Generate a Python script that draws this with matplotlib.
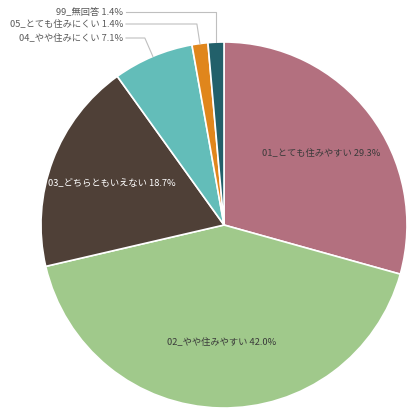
import matplotlib
matplotlib.use("Agg")
import matplotlib.pyplot as plt
import numpy as np

plt.rcParams['font.family'] = ['Noto Sans CJK JP', 'DejaVu Sans']

# データ
labels = ["01_とても住みやすい", "02_やや住みやすい", "03_どちらともいえない",
          "04_やや住みにくい", "05_とても住みにくい", "99_無回答"]
values = [29.3, 42.0, 18.7, 7.1, 1.4, 1.4]
colors = ["#B3707F", "#A0C98B", "#4F4037", "#63BDB9", "#E0861C", "#22606A"]

W, H = 407, 412
fig = plt.figure(figsize=(W / 100, H / 100), dpi=100)
ax = fig.add_axes([0, 0, 1, 1])

cx, cy, r = 224, H - 225, 183
wedges, _ = ax.pie(values, colors=colors, startangle=90, counterclock=False,
                   center=(cx, cy), radius=r, frame=True,
                   wedgeprops=dict(edgecolor="white", linewidth=1.2))
ax.set_xlim(0, W)
ax.set_ylim(0, H)
ax.set_aspect("equal")
ax.axis("off")

txt = [f"{l} {v:.1f}%" for l, v in zip(labels, values)]
fs = 6.7

# 内側ラベル
inside = [(321, H - 153, "#3A3A3A"), (222, H - 343, "#3A3A3A"), (112, H - 183, "white")]
for i, (x, y, c) in enumerate(inside):
    ax.text(x, y, txt[i], ha="center", va="center", fontsize=fs, color=c)

# 外側ラベル（引き出し線付き）
outside = {5: (H - 12, 0), 4: (H - 24, -3), 3: (H - 38, -8)}
text_x = 123
for i, (ly, dx) in outside.items():
    w = wedges[i]
    ang = np.deg2rad((w.theta1 + w.theta2) / 2)
    ex, ey = cx + r * np.cos(ang), cy + r * np.sin(ang)
    ax.plot([ex, ex + dx, text_x + 3], [ey, ly, ly], color="#BFBFBF", lw=0.8)
    ax.text(text_x, ly, txt[i], ha="right", va="center", fontsize=fs, color="#595959")

fig.savefig("out.png", dpi=100)
